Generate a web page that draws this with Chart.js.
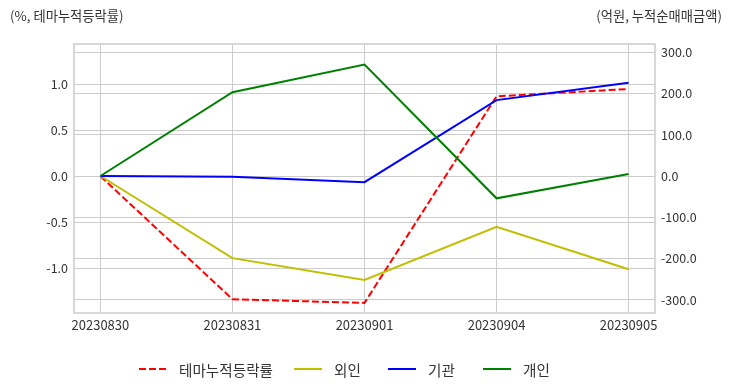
<!DOCTYPE html>
<html>
<head>
<meta charset="utf-8">
<script src="https://cdn.jsdelivr.net/npm/chart.js@4"></script>
<style>
  html, body { margin: 0; padding: 0; background: #fff; }
  #wrap { position: relative; width: 732px; height: 392px; font-family: 'Noto Sans CJK KR', 'Noto Sans', sans-serif; color: #333; }
  #chart { position: absolute; left: 0; top: 0; }
  .axisTitle { position: absolute; top: 6px; font-size: 13.3px; white-space: nowrap; }
  #titleLeft { left: 10px; }
  #titleRight { right: 10px; }
  #legend { position: absolute; left: 0; top: 358px; width: 732px; height: 22px; font-size: 14.6px; }
  .item { position: absolute; top: 0; display: flex; align-items: center; height: 22px; white-space: nowrap; }
  .item svg { margin-right: 12px; }
</style>
</head>
<body>
<div id="wrap">
  <canvas id="chart" width="732" height="392"></canvas>
  <div class="axisTitle" id="titleLeft">(%, 테마누적등락률)</div>
  <div class="axisTitle" id="titleRight">(억원, 누적순매매금액)</div>
  <div id="legend"></div>
</div>
<script>
// 날짜
const categories = ['20230830', '20230831', '20230901', '20230904', '20230905'];
// 테마누적등락률 (%, 왼쪽 축)
const themeRate = [0.0, -1.34, -1.38, 0.87, 0.95];
// 누적순매매금액 (억원, 오른쪽 축)
const foreign = [0, -199, -252, -123, -226];
const institution = [0, -2, -15, 184, 226];
const individual = [0, 203, 270, -54, 5];
// 눈금
const leftTicks = [-1.0, -0.5, 0.0, 0.5, 1.0];
const rightTicks = [-300, -200, -100, 0, 100, 200, 300];

document.addEventListener('DOMContentLoaded', function() {

  function toPoints(arr) {
    return arr.map((v, i) => ({ x: i, y: v }));
  }

  const seriesList = [
    { label: '테마누적등락률', data: themeRate, color: '#ff0000', dash: [7, 3], axis: 'yLeft', order: 4 },
    { label: '외인', data: foreign, color: '#bfbf00', dash: [], axis: 'yRight', order: 3 },
    { label: '기관', data: institution, color: '#0000ff', dash: [], axis: 'yRight', order: 2 },
    { label: '개인', data: individual, color: '#008000', dash: [], axis: 'yRight', order: 1 },
  ];

  // 차트 테두리
  const frame = {
    id: 'frame',
    beforeDatasetsDraw(chart) {
      const a = chart.chartArea;
      const c = chart.ctx;
      c.save();
      c.strokeStyle = '#cccccc';
      c.lineWidth = 1.5;
      c.strokeRect(a.left, a.top, a.right - a.left, a.bottom - a.top);
      c.restore();
    }
  };

  const tickFont = { family: "'Noto Sans CJK KR', 'Noto Sans', sans-serif", size: 12.5 };

  const ctx = document.getElementById('chart');
  const chart = new Chart(ctx, {
    type: 'line',
    data: {
      datasets: seriesList.map(s => ({
        label: s.label,
        data: toPoints(s.data),
        yAxisID: s.axis,
        order: s.order,
        borderColor: s.color,
        backgroundColor: s.color,
        borderDash: s.dash,
        borderWidth: 2,
        pointRadius: 0,
        tension: 0,
        fill: false,
      }))
    },
    plugins: [frame],
    options: {
      responsive: false,
      animation: false,
      devicePixelRatio: 1,
      layout: { padding: { top: 44, bottom: 49, left: 0, right: 0 } },
      plugins: {
        legend: { display: false },
        tooltip: { enabled: false },
      },
      scales: {
        x: {
          type: 'linear',
          min: -0.2,
          max: 4.2,
          afterBuildTicks: (axis) => { axis.ticks = categories.map((c, i) => ({ value: i })); },
          afterFit: (axis) => { axis.height = 30; },
          ticks: {
            color: '#333',
            font: { ...tickFont, size: 13 },
            padding: 4,
            maxRotation: 0,
            autoSkip: false,
            callback: (v) => categories[v],
          },
          grid: { color: '#cccccc', lineWidth: 1, drawTicks: false },
          border: { display: false },
        },
        yLeft: {
          type: 'linear',
          position: 'left',
          min: -1.49,
          max: 1.44,
          afterBuildTicks: (axis) => { axis.ticks = leftTicks.map(v => ({ value: v })); },
          afterFit: (axis) => { axis.width = 74; },
          ticks: {
            color: '#333',
            font: tickFont,
            padding: 6,
            callback: (v) => v.toFixed(1),
          },
          grid: { color: '#cccccc', lineWidth: 1, drawTicks: false },
          border: { display: false },
        },
        yRight: {
          type: 'linear',
          position: 'right',
          min: -332,
          max: 320,
          afterBuildTicks: (axis) => { axis.ticks = rightTicks.map(v => ({ value: v })); },
          afterFit: (axis) => { axis.width = 77; },
          ticks: {
            color: '#333',
            font: tickFont,
            padding: 6,
            callback: (v) => v.toFixed(1),
          },
          grid: { color: '#cccccc', lineWidth: 1, drawTicks: false },
          border: { display: false },
        },
      }
    }
  });

  // 범례
  const legendLeft = [139, 294, 388, 483];
  const legend = document.getElementById('legend');
  seriesList.forEach((s, i) => {
    const item = document.createElement('div');
    item.className = 'item';
    item.style.left = legendLeft[i] + 'px';
    const dash = s.dash.length ? ` stroke-dasharray="${s.dash.join(' ')}"` : '';
    item.innerHTML = `<svg width="28" height="4"><line x1="0" y1="2" x2="28" y2="2" stroke="${s.color}" stroke-width="2"${dash}/></svg><span>${s.label}</span>`;
    legend.appendChild(item);
  });
});
</script>
</body>
</html>
